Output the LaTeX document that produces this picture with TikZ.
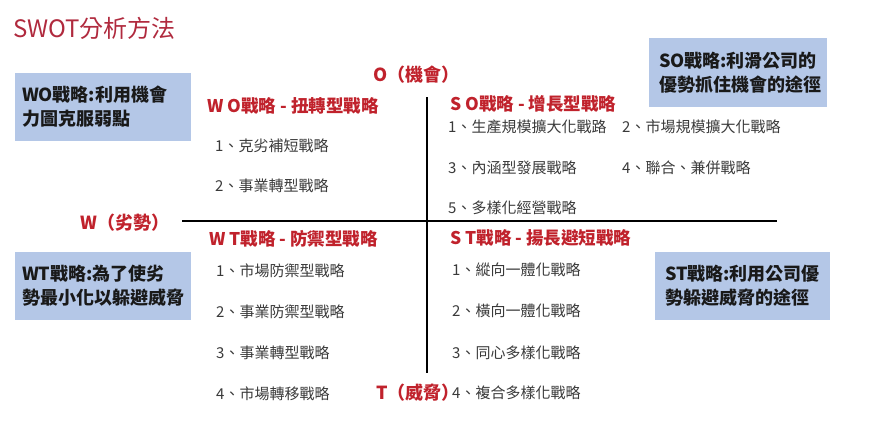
\documentclass[tikz,border=0pt]{standalone}
\usepackage{fontspec}
\setmainfont{Noto Sans CJK TC}
\definecolor{hdred}{HTML}{C0222C}
\definecolor{ttred}{HTML}{B02A3E}
\definecolor{boxblue}{HTML}{B4C7E7}
\definecolor{itemgray}{HTML}{3A3A3A}
\tikzset{
  stratbox/.style={fill=boxblue, draw=none, inner ysep=0pt, align=left,
    font=\fontsize{18}{24}\selectfont\bfseries, text=black!90},
  header/.style={anchor=west, inner sep=0pt, text=hdred,
    font=\fontsize{17.5}{20}\selectfont\bfseries},
  axislabel/.style={anchor=west, inner sep=0pt, text=hdred,
    font=\fontsize{18}{20}\selectfont\bfseries},
  item/.style={anchor=west, inner sep=0pt, text=itemgray,
    font=\fontsize{15}{18}\selectfont},
  axis/.style={line width=2.2pt, black}
}
\begin{document}
\begin{tikzpicture}[x=1pt,y=-1pt]
\useasboundingbox (0,0) rectangle (875,421);
% title
\node[anchor=west, inner sep=0pt, text=ttred, font=\fontsize{24}{28}\selectfont] (title) at (13,28) {SWOT分析方法};
% axes
\coordinate (wl) at (182,221);
\coordinate (wr) at (777,221);
\coordinate (ot) at (427,97);
\coordinate (tb) at (427,373);
\draw[axis] (wl) -- (wr);
\draw[axis] (ot) -- (tb);
% axis labels
\node[axislabel] (olab) at (373,75) {O（機會）};
\node[axislabel] (wlab) at (80,223) {W（劣勢）};
\node[axislabel] (tlab) at (376,393) {T（威脅）};
% boxes
\node[stratbox, minimum width=176pt, minimum height=68pt, text width=162pt, inner xsep=7pt] (wo) at (103,107) {WO戰略:利用機會\\力圖克服弱點};
\node[stratbox, minimum width=178pt, minimum height=69pt, text width=158pt, inner xsep=10pt] (so) at (738,72.5) {SO戰略:利滑公司的\\優勢抓住機會的途徑};
\node[stratbox, minimum width=176pt, minimum height=68pt, text width=162pt, inner xsep=7pt] (wt) at (103,286) {WT戰略:為了使劣\\勢最小化以躲避威脅};
\node[stratbox, minimum width=175pt, minimum height=68pt, text width=155pt, inner xsep=10pt] (st) at (742.5,286) {ST戰略:利用公司優\\勢躲避威脅的途徑};
% headers
\node[header] (woh) at (207,106) {W O戰略 - 扭轉型戰略};
\node[header] (soh) at (450,104) {S O戰略 - 增長型戰略};
\node[header] (wth) at (209,239) {W T戰略 - 防禦型戰略};
\node[header] (sth) at (450,238) {S T戰略 - 揚長避短戰略};
% WO items
\node[item] (wo1) at (215,146) {1、克劣補短戰略};
\node[item] (wo2) at (215,186) {2、事業轉型戰略};
% SO items
\node[item] (so1) at (448,127) {1、生產規模擴大化戰路};
\node[item] (so2) at (622,127) {2、市場規模擴大化戰略};
\node[item] (so3) at (448,168) {3、內涵型發展戰略};
\node[item] (so4) at (622,168) {4、聯合、兼併戰略};
\node[item] (so5) at (448,208) {5、多樣化經營戰略};
% WT items
\node[item] (wt1) at (216,271) {1、市場防禦型戰略};
\node[item] (wt2) at (216,312) {2、事業防禦型戰略};
\node[item] (wt3) at (216,353) {3、事業轉型戰略};
\node[item] (wt4) at (216,394) {4、市場轉移戰略};
% ST items
\node[item] (st1) at (452,270) {1、縱向一體化戰略};
\node[item] (st2) at (452,311) {2、橫向一體化戰略};
\node[item] (st3) at (452,353) {3、同心多樣化戰略};
\node[item] (st4) at (452,393) {4、複合多樣化戰略};
\end{tikzpicture}
\end{document}
